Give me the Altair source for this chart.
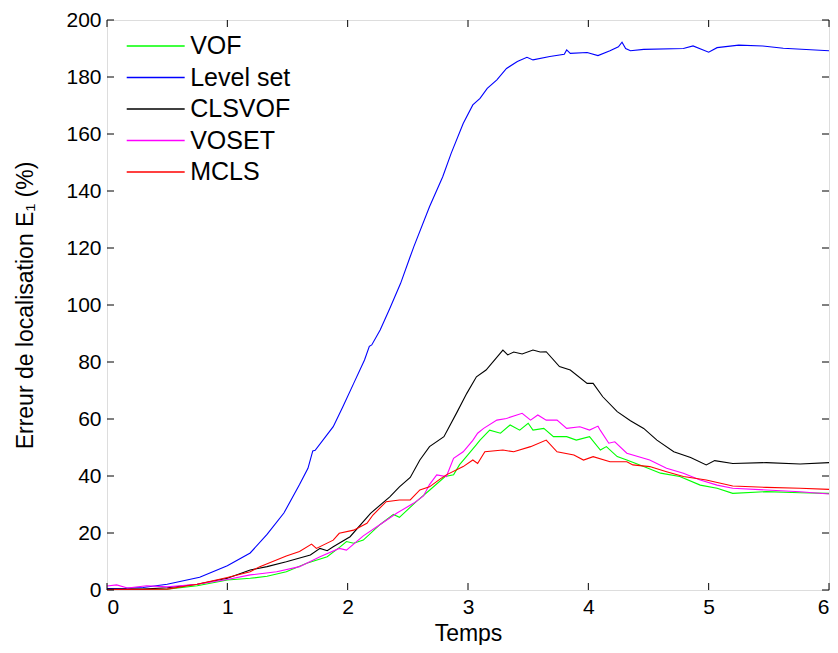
import altair as alt
import pandas as pd

series_names = ["VOF", "Level set", "CLSVOF", "VOSET", "MCLS"]
series_colors = ["#00ff00", "#0000ff", "#000000", "#ff00ff", "#ff0000"]

vof_x = [0, 0.5, 0.75, 1.0, 1.19, 1.33, 1.49, 1.66, 1.83, 1.94, 1.99, 2.05, 2.13, 2.27, 2.38, 2.43, 2.57, 2.68, 2.81, 2.88, 2.93, 2.99, 3.07, 3.1, 3.18, 3.27, 3.35, 3.43, 3.5, 3.54, 3.63, 3.71, 3.82, 3.9, 4.01, 4.1, 4.15, 4.24, 4.32, 4.46, 4.6, 4.76, 4.93, 5.07, 5.2, 5.48, 5.76, 6.0]
vof_y = [0.2, 0.3, 1.5, 3.5, 4.1, 4.8, 6.4, 9.4, 11.7, 15.2, 17, 16.4, 17.5, 23, 26.5, 25.5, 31, 35, 39.8, 40.4, 44, 47, 51, 52.6, 56.1, 55, 57.9, 56.1, 58.5, 56.1, 56.7, 53.8, 53.8, 52.6, 53.8, 49.1, 50.3, 46.8, 45.6, 43.3, 41, 39.8, 36.8, 35.7, 33.9, 34.5, 34.1, 33.9]

ls_x = [0, 0.15, 0.3, 0.5, 0.77, 1.0, 1.19, 1.33, 1.47, 1.6, 1.67, 1.71, 1.73, 1.88, 1.96, 2.05, 2.14, 2.18, 2.2, 2.27, 2.35, 2.44, 2.52, 2.55, 2.68, 2.79, 2.86, 2.96, 3.04, 3.1, 3.16, 3.24, 3.32, 3.41, 3.49, 3.54, 3.68, 3.8, 3.82, 3.85, 3.99, 4.08, 4.18, 4.25, 4.28, 4.31, 4.35, 4.46, 4.79, 4.87, 5.0, 5.07, 5.25, 5.45, 5.62, 6.0]
ls_y = [0.5, 0.6, 0.9, 2, 4.5, 8.5, 13, 19.5, 27, 37, 42.7, 48.8, 49, 57.3, 64.3, 72.5, 80.7, 85.5, 86, 91.2, 98.8, 107.6, 117, 120.5, 134.5, 145, 153.2, 163.7, 170.2, 172.5, 176, 179, 183, 185.4, 186.9, 186, 187.2, 188, 189.5, 188.3, 188.6, 187.5, 189.2, 190.6, 192.2, 190, 189.2, 189.7, 190, 190.9, 188.7, 190.3, 191.2, 190.9, 190.1, 189.2]

cls_x = [0, 0.3, 0.5, 0.75, 1.0, 1.19, 1.33, 1.49, 1.69, 1.77, 1.83, 1.88, 2.02, 2.19, 2.35, 2.43, 2.52, 2.6, 2.68, 2.8, 2.91, 2.99, 3.07, 3.15, 3.29, 3.33, 3.38, 3.45, 3.54, 3.6, 3.65, 3.76, 3.85, 3.99, 4.04, 4.12, 4.24, 4.35, 4.46, 4.57, 4.71, 4.85, 4.98, 5.05, 5.2, 5.48, 5.76, 6.0]
cls_y = [0.3, 0.3, 0.8, 2, 4.1, 7, 8.2, 9.9, 12.3, 14.6, 13.8, 15.2, 18.7, 26.9, 32.7, 36.2, 39.5, 45.6, 50.3, 53.8, 62.5, 69, 74.8, 77.2, 84.2, 82.5, 83.5, 82.8, 84.2, 83.5, 83.6, 78.4, 77.2, 72.5, 72.5, 67.8, 62.6, 59.4, 56.7, 52.6, 48.5, 46.5, 43.9, 45.4, 44.4, 44.7, 44.2, 44.7]

voset_x = [0, 0.08, 0.17, 0.33, 0.5, 0.75, 1.0, 1.19, 1.41, 1.6, 1.77, 1.93, 1.99, 2.13, 2.27, 2.41, 2.55, 2.63, 2.68, 2.74, 2.82, 2.88, 2.96, 3.04, 3.08, 3.13, 3.24, 3.32, 3.45, 3.52, 3.58, 3.65, 3.74, 3.82, 3.93, 4.01, 4.08, 4.1, 4.17, 4.22, 4.32, 4.51, 4.65, 4.79, 4.93, 5.07, 5.2, 5.48, 5.76, 6.0]
voset_y = [1.4, 1.8, 0.7, 1.5, 1.1, 2, 3.7, 5.3, 6.4, 8.2, 11.7, 14.6, 14, 19, 23, 27, 30.5, 33, 37, 40.4, 39.8, 46.2, 48.5, 52.5, 55, 56.7, 59.6, 60.2, 62, 59.6, 61.4, 59.6, 59.6, 56.7, 57.3, 56.1, 57.5, 56, 51.5, 52, 48, 45.6, 42.7, 41, 38.6, 36.8, 35.7, 35.1, 34.5, 33.7]

mcls_x = [0, 0.5, 0.75, 1.0, 1.19, 1.27, 1.49, 1.6, 1.7, 1.74, 1.88, 1.93, 2.05, 2.16, 2.21, 2.32, 2.43, 2.52, 2.6, 2.68, 2.77, 2.82, 2.96, 3.04, 3.08, 3.14, 3.29, 3.38, 3.52, 3.65, 3.74, 3.88, 3.96, 4.04, 4.18, 4.32, 4.37, 4.51, 4.65, 4.79, 4.98, 5.2, 5.48, 5.76, 6.0]
mcls_y = [0.2, 0.3, 2, 4.4, 6.4, 8.2, 11.9, 13.5, 16.1, 14.6, 17.5, 19.9, 21, 23.4, 26.3, 31, 31.6, 31.6, 35.1, 36.2, 39, 40.4, 43.3, 45.6, 44.4, 48.5, 49.1, 48.5, 50.3, 52.6, 48.5, 47.4, 45.6, 46.8, 45, 45, 43.9, 43.3, 41.5, 39.8, 38.6, 36.5, 36, 35.7, 35.3]

x_ticks = [0, 1, 2, 3, 4, 5, 6]
y_ticks = [0, 20, 40, 60, 80, 100, 120, 140, 160, 180, 200]

rows = []
for name, xs, ys in [("VOF", vof_x, vof_y), ("Level set", ls_x, ls_y),
                     ("CLSVOF", cls_x, cls_y), ("VOSET", voset_x, voset_y),
                     ("MCLS", mcls_x, mcls_y)]:
    for i, (a, b) in enumerate(zip(xs, ys)):
        rows.append({"serie": name, "t": a, "e": b, "order": i})
df = pd.DataFrame(rows)

W, H = 722, 570
FONT = "Liberation Sans"

xscale = alt.Scale(domain=[0, 6], nice=False, zero=False)
yscale = alt.Scale(domain=[0, 200], nice=False)

lines = alt.Chart(df).mark_line(strokeWidth=1.1, clip=True).encode(
    x=alt.X("t:Q", scale=xscale,
            axis=alt.Axis(title="Temps", values=x_ticks, format="d", grid=False,
                          ticks=False, domain=False, labelPadding=6,
                          labelFontSize=21, titleFontSize=23, labelFont=FONT,
                          titleFont=FONT, labelColor="black", titleColor="black",
                          titleFontWeight="normal", titlePadding=5)),
    y=alt.Y("e:Q", scale=yscale,
            axis=alt.Axis(title="Erreur de localisation E₁ (%)", values=y_ticks,
                          format="d", grid=False, ticks=False, domain=False,
                          labelPadding=6, labelFontSize=21, titleFontSize=23,
                          labelFont=FONT, titleFont=FONT, labelColor="black",
                          titleColor="black", titleFontWeight="normal",
                          titlePadding=28)),
    color=alt.Color("serie:N",
                    scale=alt.Scale(domain=series_names, range=series_colors),
                    legend=alt.Legend(title=None, orient="none", legendX=19.7,
                                      legendY=13.5, symbolType="M-4,0H4",
                                      symbolSize=210, symbolStrokeWidth=1.4,
                                      symbolOffset=16.5, symbolOpacity=1,
                                      labelFontSize=25, labelFont=FONT,
                                      labelColor="black", rowPadding=5.5,
                                      labelOffset=22, padding=0)),
    order="order:Q",
    detail="serie:N",
)

xt = pd.DataFrame({"v": x_ticks})
yt = pd.DataFrame({"v": y_ticks})

tick_b = alt.Chart(xt).mark_rule(color="black", strokeWidth=1).encode(
    x=alt.X("v:Q", scale=xscale), y=alt.value(H), y2=alt.value(H - 7))
tick_t = alt.Chart(xt).mark_rule(color="black", strokeWidth=1).encode(
    x=alt.X("v:Q", scale=xscale), y=alt.value(0), y2=alt.value(7))
tick_l = alt.Chart(yt).mark_rule(color="black", strokeWidth=1).encode(
    y=alt.Y("v:Q", scale=yscale), x=alt.value(0), x2=alt.value(7))
tick_r = alt.Chart(yt).mark_rule(color="black", strokeWidth=1).encode(
    y=alt.Y("v:Q", scale=yscale), x=alt.value(W), x2=alt.value(W - 7))

chart = alt.layer(lines, tick_b, tick_t, tick_l, tick_r).properties(
    width=W, height=H,
    autosize=alt.AutoSizeParams(type="none"),
    padding={"left": 99, "top": 12, "right": 1, "bottom": 55},
).configure_view(stroke="black", strokeWidth=1.2).configure(background="white")

chart.save("out.html", embed_options={"renderer": "svg", "actions": False})
